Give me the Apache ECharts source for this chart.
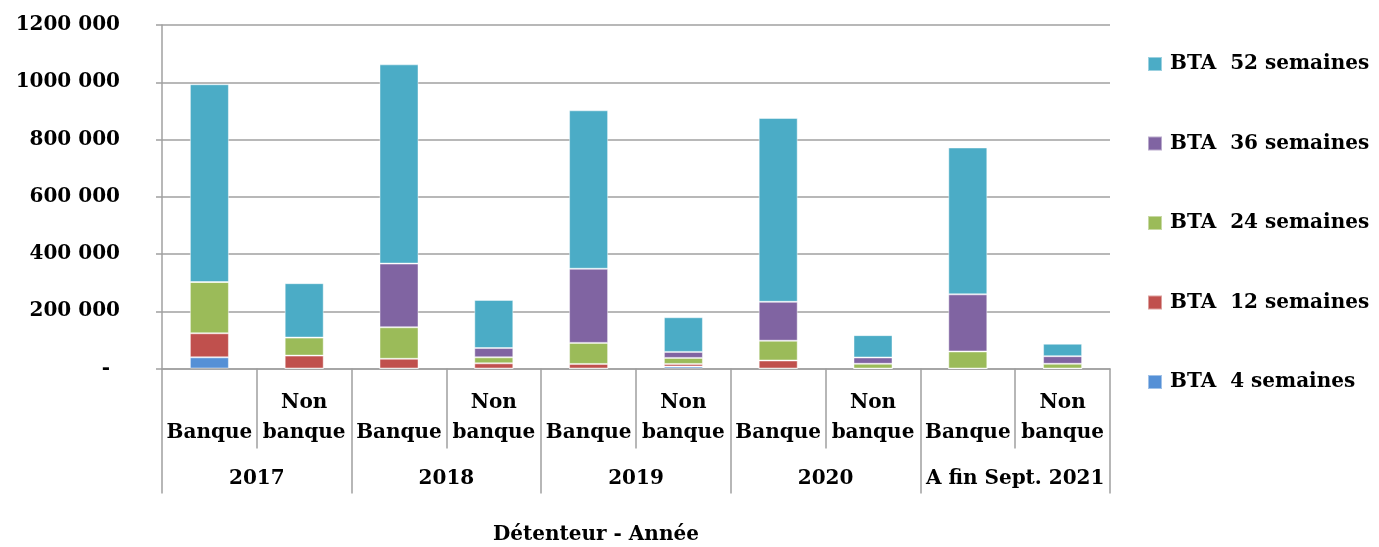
<!DOCTYPE html>
<html>
<head>
<meta charset="utf-8">
<script src="https://cdn.jsdelivr.net/npm/echarts@6/dist/echarts.min.js"></script>
<style>
  html, body { margin: 0; padding: 0; background: #fff; }
  #chart { width: 1379px; height: 547px; }
</style>
</head>
<body>
<div id="chart"></div>
<script>
// données
const years = ["2017", "2018", "2019", "2020", "A fin Sept. 2021"];
const holders = ["Banque", "Non banque"];
const categories = [];
years.forEach((y) => holders.forEach((h) => categories.push(h + "|" + y)));

const bta4 = [39000, 0, 0, 0, 0, 7000, 0, 0, 0, 0];
const bta12 = [84000, 45000, 34000, 18000, 16000, 9000, 28000, 0, 0, 0];
const bta24 = [179000, 63000, 110000, 21000, 73500, 21000, 69000, 16500, 59500, 16500];
const bta36 = [0, 0, 222500, 32500, 259000, 21000, 136000, 22000, 199500, 26500];
const bta52 = [691000, 190000, 696000, 168000, 553500, 121000, 642000, 78000, 513000, 43500];

const seriesNames = ["BTA  4 semaines", "BTA  12 semaines", "BTA  24 semaines", "BTA  36 semaines", "BTA  52 semaines"];
const seriesData = [bta4, bta12, bta24, bta36, bta52];
const colors = ["#5590d6", "#c0504d", "#9bbb59", "#8064a2", "#4bacc6"];

const font = "DejaVu Serif";
const gridColor = "#a0a0a0";

const chart = echarts.init(document.getElementById("chart"));

const series = seriesData.map((d, i) => ({
  name: seriesNames[i],
  type: "bar",
  stack: "total",
  data: d,
  barWidth: 39,
  xAxisIndex: 0,
  itemStyle: { color: colors[i], borderColor: "rgba(255,255,255,0.45)", borderWidth: 1 },
}));

const option = {
  animation: false,
  grid: { left: 162, right: 269, top: 25, bottom: 178.5 },
  legend: {
    orient: "vertical",
    left: 1147,
    top: 54,
    padding: 0,
    itemWidth: 14,
    itemHeight: 14,
    itemGap: 59.5,
    icon: "rect",
    data: seriesNames.slice().reverse(),
    textStyle: { fontFamily: font, fontWeight: "bold", fontSize: 20, color: "#000", lineHeight: 20, padding: [0, 0, 0, 3] },
  },
  xAxis: [
    {
      type: "category",
      data: categories,
      axisLine: { show: true, lineStyle: { color: gridColor, width: 1.5 } },
      axisTick: { show: true, alignWithLabel: false, length: 80, interval: 0, lineStyle: { color: gridColor, width: 1.5 } },
      axisLabel: {
        interval: 0,
        margin: 19,
        fontFamily: font,
        fontWeight: "bold",
        fontSize: 20,
        lineHeight: 30,
        color: "#000",
        formatter: (v) => (v.split("|")[0] === "Banque" ? "\nBanque" : "Non\nbanque"),
      },
    },
    {
      type: "category",
      position: "bottom",
      offset: 80,
      data: years,
      axisLine: { show: false },
      axisTick: { show: true, alignWithLabel: false, length: 45, interval: 0, lineStyle: { color: gridColor, width: 1.5 } },
      axisLabel: {
        interval: 0,
        margin: 20,
        fontFamily: font,
        fontWeight: "bold",
        fontSize: 20,
        lineHeight: 20,
        color: "#000",
      },
    },
  ],
  yAxis: {
    type: "value",
    min: 0,
    max: 1200000,
    interval: 200000,
    axisLine: { show: true, lineStyle: { color: gridColor, width: 1.5 } },
    axisTick: { show: true, length: 6, lineStyle: { color: gridColor, width: 1.5 } },
    splitLine: { lineStyle: { color: gridColor, width: 1.5 } },
    axisLabel: {
      margin: 42,
      fontFamily: font,
      fontWeight: "bold",
      fontSize: 20,
      color: "#000",
      formatter: (v) => (v === 0 ? "{d|-}" : Math.floor(v / 1000) + " 000"),
      rich: { d: { fontFamily: font, fontWeight: "bold", fontSize: 20, color: "#000", padding: [0, 10, 0, 0] } },
    },
  },
  graphic: [
    {
      type: "text",
      left: 493,
      top: 525,
      style: { text: "Détenteur - Année", font: "bold 20px 'DejaVu Serif'", fill: "#000" },
    },
  ],
  series: series,
};

chart.setOption(option);
</script>
</body>
</html>
